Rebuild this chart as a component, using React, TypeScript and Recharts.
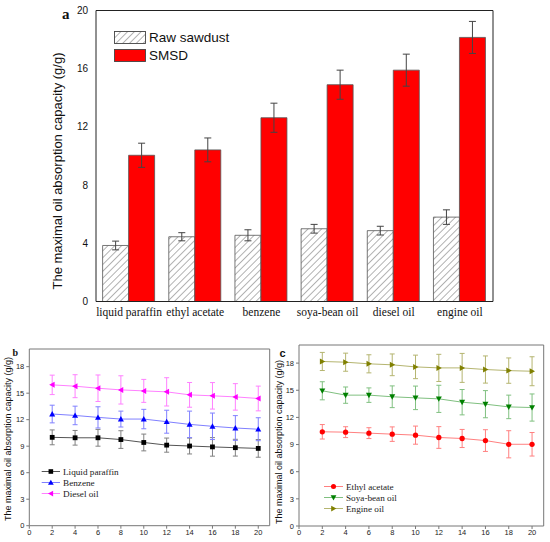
import React from 'react';
import { BarChart, Bar, LineChart, Line, XAxis, YAxis, ErrorBar, Legend } from 'recharts';

const SANS = '"Liberation Sans", Arial, sans-serif';
const SERIF = '"Liberation Serif", "Times New Roman", serif';

// ---------- Panel a data ----------
const categories = ['liquid paraffin', 'ethyl acetate', 'benzene', 'soya-bean oil', 'diesel oil', 'engine oil'];
const rawSawdust = [3.85, 4.45, 4.55, 5.0, 4.87, 5.8];
const rawSawdustErr = [0.3, 0.28, 0.38, 0.3, 0.3, 0.5];
const smsd = [10.05, 10.42, 12.63, 14.9, 15.9, 18.15];
const smsdErr = [0.83, 0.82, 1.0, 1.0, 1.1, 1.1];
const barTicks = [0, 4, 8, 12, 16, 20];

// ---------- Panels b, c data ----------
const times = [2, 4, 6, 8, 10, 12, 14, 16, 18, 20];
const timeTicks = [0, 2, 4, 6, 8, 10, 12, 14, 16, 18, 20];
const capacityTicks = [0, 3, 6, 9, 12, 15, 18];

const liquidParaffin = [10.0, 9.95, 9.95, 9.75, 9.42, 9.12, 9.02, 8.92, 8.83, 8.75];
const liquidParaffinErr = [0.84, 0.83, 0.95, 1.0, 0.95, 0.8, 0.9, 1.05, 0.95, 1.0];
const benzene = [12.64, 12.48, 12.26, 12.07, 12.07, 11.77, 11.47, 11.25, 11.06, 10.92];
const benzeneErr = [1.0, 1.05, 1.2, 0.9, 1.1, 1.3, 1.5, 1.5, 1.4, 1.3];
const dieselOil = [15.94, 15.79, 15.56, 15.37, 15.26, 15.15, 14.81, 14.7, 14.58, 14.4];
const dieselOilErr = [1.1, 1.3, 1.5, 1.6, 1.3, 1.6, 1.4, 1.5, 1.5, 1.4];

const ethylAcetate = [10.41, 10.37, 10.26, 10.15, 10.04, 9.78, 9.67, 9.44, 9.03, 9.03];
const ethylAcetateErr = [0.8, 0.6, 0.6, 0.8, 1.0, 1.2, 1.0, 1.2, 1.5, 1.3];
const soyaBeanOil = [14.94, 14.46, 14.46, 14.28, 14.16, 14.05, 13.68, 13.46, 13.16, 13.09];
const soyaBeanOilErr = [1.0, 0.9, 0.8, 1.2, 1.3, 1.5, 1.4, 1.5, 1.3, 1.5];
const engineOil = [18.18, 18.1, 17.92, 17.81, 17.58, 17.47, 17.47, 17.29, 17.17, 17.1];
const engineOilErr = [1.0, 1.0, 1.0, 1.2, 1.3, 1.5, 1.6, 1.5, 1.4, 1.6];

const barData = categories.map((name, i) => ({
  name,
  raw: rawSawdust[i],
  rawErr: rawSawdustErr[i],
  smsd: smsd[i],
  smsdErr: smsdErr[i],
}));

const panelBData = times.map((t, i) => ({
  t,
  lp: liquidParaffin[i], lpErr: liquidParaffinErr[i],
  bz: benzene[i], bzErr: benzeneErr[i],
  ds: dieselOil[i], dsErr: dieselOilErr[i],
}));

const panelCData = times.map((t, i) => ({
  t,
  ea: ethylAcetate[i], eaErr: ethylAcetateErr[i],
  sb: soyaBeanOil[i], sbErr: soyaBeanOilErr[i],
  eo: engineOil[i], eoErr: engineOilErr[i],
}));

type Kind = 'square' | 'up' | 'left' | 'circle' | 'down' | 'right';

function Marker({ kind, cx, cy, s, fill }: { kind: Kind; cx: number; cy: number; s: number; fill: string }) {
  if (cx == null || cy == null || isNaN(cx) || isNaN(cy)) return null;
  const a = s * 1.25;
  switch (kind) {
    case 'square':
      return <rect x={cx - s} y={cy - s} width={2 * s} height={2 * s} fill={fill} />;
    case 'circle':
      return <circle cx={cx} cy={cy} r={s * 1.1} fill={fill} />;
    case 'up':
      return <polygon points={`${cx},${cy - a} ${cx - a},${cy + s} ${cx + a},${cy + s}`} fill={fill} />;
    case 'down':
      return <polygon points={`${cx},${cy + a} ${cx - a},${cy - s} ${cx + a},${cy - s}`} fill={fill} />;
    case 'left':
      return <polygon points={`${cx - a},${cy} ${cx + s},${cy - a} ${cx + s},${cy + a}`} fill={fill} />;
    case 'right':
      return <polygon points={`${cx + a},${cy} ${cx - s},${cy - a} ${cx - s},${cy + a}`} fill={fill} />;
  }
  return null;
}

type SeriesStyle = { key: string; name: string; marker: Kind; markerColor: string; lineColor: string; errColor: string };

const seriesB: SeriesStyle[] = [
  { key: 'lp', name: 'Liquid paraffin', marker: 'square', markerColor: '#000000', lineColor: '#555555', errColor: '#808080' },
  { key: 'bz', name: 'Benzene', marker: 'up', markerColor: '#0000ff', lineColor: '#8080ff', errColor: '#8080ff' },
  { key: 'ds', name: 'Diesel oil', marker: 'left', markerColor: '#ff00ff', lineColor: '#ff80ff', errColor: '#ff80ff' },
];

const seriesC: SeriesStyle[] = [
  { key: 'ea', name: 'Ethyl acetate', marker: 'circle', markerColor: '#ff0000', lineColor: '#ff8080', errColor: '#ff8080' },
  { key: 'sb', name: 'Soya-bean oil', marker: 'down', markerColor: '#008000', lineColor: '#80c080', errColor: '#80c080' },
  { key: 'eo', name: 'Engine oil', marker: 'right', markerColor: '#808000', lineColor: '#b5b570', errColor: '#b5b570' },
];

const barSeries = [
  { key: 'raw', fill: 'url(#hatchLegend)' },
  { key: 'smsd', fill: '#ff0000' },
];

function BarLegend(props: any) {
  const payload = props.payload || [];
  const ordered = barSeries
    .map((s) => ({ s, p: payload.find((p: any) => p.dataKey === s.key) }))
    .filter((o) => o.p);
  return (
    <svg width={160} height={32} style={{ display: 'block', overflow: 'visible' }}>
      <defs>
        <pattern id="hatchLegend" patternUnits="userSpaceOnUse" width="4.8" height="4.8" patternTransform="rotate(45)">
          <rect width="4.8" height="4.8" fill="#fff" />
          <line x1="0" y1="0" x2="0" y2="4.8" stroke="#555" strokeWidth="0.9" />
        </pattern>
      </defs>
      {ordered.map(({ s, p }, i) => (
        <g key={s.key} transform={`translate(0, ${i * 18})`}>
          <rect x={0.5} y={0.5} width={31} height={12} fill={s.fill} stroke="#444" strokeWidth={0.9} />
          <text x={35} y={11} fontFamily={SANS} fontSize={13.5} fill="#111">{p.value}</text>
        </g>
      ))}
    </svg>
  );
}

function LineLegend({ payload, series, lineStart, lineEnd, textX }: any) {
  const list = payload || [];
  const ordered = series
    .map((st: SeriesStyle) => ({ st, p: list.find((p: any) => p.dataKey === st.key) }))
    .filter((o: any) => o.p);
  return (
    <svg width={130} height={36} style={{ display: 'block', overflow: 'visible' }}>
      {ordered.map(({ st, p }: any, i: number) => {
        const y = 6.5 + i * 11;
        const mid = (lineStart + lineEnd) / 2;
        return (
          <g key={st.key}>
            <line x1={lineStart} y1={y} x2={lineEnd} y2={y} stroke={st.lineColor} strokeWidth={1} />
            <Marker kind={st.marker} cx={mid} cy={y} s={2.3} fill={st.markerColor} />
            <text x={textX} y={y} dy="0.35em" fontFamily={SERIF} fontSize={9.2} fill="#222">{p.value}</text>
          </g>
        );
      })}
    </svg>
  );
}

function TimePanel({ data, series, margin, yWidth, xHeight, legendLeft, legendTop, lineStart, lineEnd, textX }: any) {
  const axisColor = '#777';
  return (
    <LineChart width={275} height={212} data={data} margin={margin}>
      <XAxis
        type="number"
        dataKey="t"
        domain={[0, 21]}
        ticks={timeTicks}
        interval={0}
        height={xHeight}
        tickSize={3}
        tickMargin={1}
        tick={{ fontSize: 7.5, fontFamily: SANS, fill: '#222' }}
        axisLine={{ stroke: axisColor }}
        tickLine={{ stroke: axisColor }}
      />
      <XAxis
        xAxisId="top"
        type="number"
        dataKey="t"
        orientation="top"
        domain={[0, 21]}
        height={1}
        tick={false}
        tickLine={false}
        axisLine={{ stroke: axisColor }}
      />
      <YAxis
        type="number"
        domain={[0, 20]}
        ticks={capacityTicks}
        interval={0}
        width={yWidth}
        tickSize={3}
        tickMargin={2}
        tick={{ fontSize: 7.5, fontFamily: SANS, fill: '#222' }}
        axisLine={{ stroke: axisColor }}
        tickLine={{ stroke: axisColor }}
      />
      <YAxis
        yAxisId="right"
        orientation="right"
        type="number"
        domain={[0, 20]}
        width={1}
        tick={false}
        tickLine={false}
        axisLine={{ stroke: axisColor }}
      />
      {series.map((s: SeriesStyle) => (
        <Line
          key={s.key}
          dataKey={s.key}
          name={s.name}
          stroke={s.lineColor}
          strokeWidth={1}
          isAnimationActive={false}
          activeDot={false}
          dot={(p: any) => (
            <Marker key={`${s.key}-${p.index}`} kind={s.marker} cx={p.cx} cy={p.cy} s={2.4} fill={s.markerColor} />
          )}
        >
          <ErrorBar dataKey={`${s.key}Err`} direction="y" width={2.5} stroke={s.errColor} strokeWidth={1} />
        </Line>
      ))}
      <Legend
        layout="vertical"
        align="center"
        verticalAlign="middle"
        wrapperStyle={{ left: legendLeft, top: legendTop, width: 130, height: 36 }}
        content={(props: any) => (
          <LineLegend payload={props.payload} series={series} lineStart={lineStart} lineEnd={lineEnd} textX={textX} />
        )}
      />
    </LineChart>
  );
}

export default function App() {
  const dark = '#222';
  return (
    <div style={{ position: 'absolute', left: 0, top: 0, width: 550, height: 542, background: '#fff', overflow: 'hidden' }}>
      {/* Panel a */}
      <div style={{ position: 'absolute', left: 0, top: 0 }}>
        <BarChart
          width={550}
          height={330}
          data={barData}
          margin={{ top: 9.5, right: 56, left: 0, bottom: 0 }}
          barCategoryGap="10%"
          barGap={0}
        >
          <defs>
            <pattern id="hatch" patternUnits="userSpaceOnUse" width="4.8" height="4.8" patternTransform="rotate(45)">
              <rect width="4.8" height="4.8" fill="#fff" />
              <line x1="0" y1="0" x2="0" y2="4.8" stroke="#555" strokeWidth="0.9" />
            </pattern>
          </defs>
          <XAxis
            dataKey="name"
            height={28.5}
            interval={0}
            tickLine={false}
            tickSize={4}
            tickMargin={2}
            tick={{ fontFamily: SERIF, fontSize: 11.5, fill: '#111' }}
            axisLine={{ stroke: dark }}
          />
          <XAxis
            xAxisId="top"
            dataKey="name"
            orientation="top"
            height={1}
            tick={false}
            tickLine={false}
            axisLine={{ stroke: dark }}
          />
          <YAxis
            type="number"
            domain={[0, 20]}
            ticks={barTicks}
            interval={0}
            width={96}
            tickLine={false}
            tickSize={4}
            tickMargin={4}
            tick={{ fontFamily: SANS, fontSize: 10, fill: '#111' }}
            axisLine={{ stroke: dark }}
          />
          <YAxis
            yAxisId="inner"
            mirror
            type="number"
            domain={[0, 20]}
            ticks={barTicks}
            interval={0}
            width={1}
            tick={false}
            tickSize={4}
            axisLine={false}
            tickLine={{ stroke: dark }}
          />
          <YAxis
            yAxisId="right"
            orientation="right"
            type="number"
            domain={[0, 20]}
            width={1}
            tick={false}
            tickLine={false}
            axisLine={{ stroke: dark }}
          />
          <Bar dataKey="raw" name="Raw sawdust" fill="url(#hatch)" stroke="#555" strokeWidth={0.8} isAnimationActive={false}>
            <ErrorBar dataKey="rawErr" direction="y" width={3.5} stroke="#444" strokeWidth={1} />
          </Bar>
          <Bar dataKey="smsd" name="SMSD" fill="#ff0000" stroke="#555" strokeWidth={0.8} isAnimationActive={false}>
            <ErrorBar dataKey="smsdErr" direction="y" width={3.5} stroke="#444" strokeWidth={1} />
          </Bar>
          <Legend
            layout="vertical"
            align="center"
            verticalAlign="middle"
            wrapperStyle={{ left: 114, top: 31, width: 160, height: 32 }}
            content={(props: any) => <BarLegend payload={props.payload} />}
          />
        </BarChart>
      </div>

      {/* Panel b */}
      <div style={{ position: 'absolute', left: 0, top: 330 }}>
        <TimePanel
          data={panelBData}
          series={seriesB}
          margin={{ top: 18, right: 4.3, left: 0, bottom: 0 }}
          yWidth={29.3}
          xHeight={16.3}
          legendLeft={41}
          legendTop={135}
          lineStart={0.7}
          lineEnd={19}
          textX={22}
        />
      </div>

      {/* Panel c */}
      <div style={{ position: 'absolute', left: 275, top: 330 }}>
        <TimePanel
          data={panelCData}
          series={seriesC}
          margin={{ top: 14, right: 5.3, left: 0, bottom: 0 }}
          yWidth={24}
          xHeight={16}
          legendLeft={49}
          legendTop={150}
          lineStart={0}
          lineEnd={19}
          textX={22}
        />
      </div>

      {/* Titles and panel letters */}
      <svg width={550} height={542} style={{ position: 'absolute', left: 0, top: 0, pointerEvents: 'none' }}>
        <text x={62} y={19} fontFamily={SERIF} fontWeight="bold" fontSize={15} fill="#111">a</text>
        <text
          x={62}
          y={171}
          transform="rotate(-90, 62, 171)"
          textAnchor="middle"
          fontFamily={SANS}
          fontSize={13}
          fill="#111"
        >
          The maximal oil absorption capacity (g/g)
        </text>

        <text x={12.5} y={356} fontFamily={SERIF} fontWeight="bold" fontSize={10} fill="#111">b</text>
        <text
          x={10.5}
          y={439}
          transform="rotate(-90, 10.5, 439)"
          textAnchor="middle"
          fontFamily={SANS}
          fontSize={9}
          fill="#111"
        >
          The maximal oil absorption capacity (g/g)
        </text>

        <text x={279.5} y={356.7} fontFamily={SANS} fontWeight="bold" fontSize={11} fill="#111">c</text>
        <text
          x={282}
          y={442}
          transform="rotate(-90, 282, 442)"
          textAnchor="middle"
          fontFamily={SANS}
          fontSize={9}
          fill="#111"
        >
          The maximal oil absorption capacity (g/g)
        </text>
      </svg>
    </div>
  );
}
